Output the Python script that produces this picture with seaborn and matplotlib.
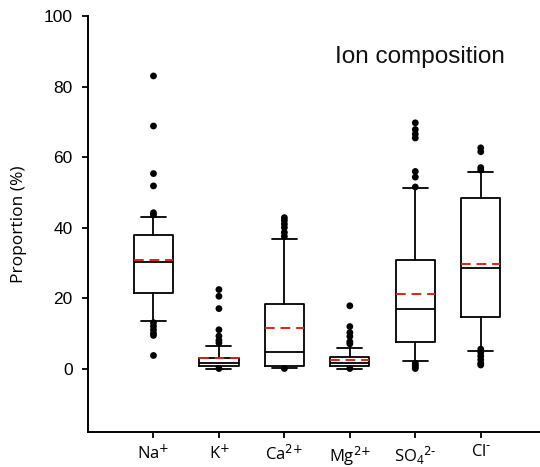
import matplotlib
matplotlib.use("Agg")
import matplotlib.pyplot as plt
import seaborn as sns
import pandas as pd

# Ion labels and box statistics (proportion, %)
ions = [r"$\mathregular{Na^{\text{+}}}$", r"$\mathregular{K^{\text{+}}}$", r"$\mathregular{Ca^{\text{2+}}}$",
        r"$\mathregular{Mg^{\text{2+}}}$", r"$\mathregular{SO_4{}^{\text{2-}}}$", r"$\mathregular{Cl^{\text{-}}}$"]
whisker_low = [13.6, 0.0, 0.2, 0.0, 2.0, 5.1]
q1 = [21.5, 0.6, 0.8, 0.6, 7.4, 14.5]
medians = [30.2, 1.5, 4.8, 1.7, 17.0, 28.6]
means = [30.8, 2.9, 11.6, 2.5, 21.2, 29.7]
q3 = [38.0, 3.0, 18.4, 3.4, 30.9, 48.4]
whisker_high = [43.0, 6.5, 36.8, 5.9, 51.3, 55.8]

# Individual outlying samples per ion
na_out = [83.0, 68.8, 55.3, 51.8, 44.2, 43.6, 13.0, 12.0, 11.0, 10.0, 9.4, 3.7]
k_out = [22.4, 20.5, 17.0, 11.0, 9.2, 8.0, 7.3, 0.0]
ca_out = [42.8, 42.0, 41.0, 40.0, 38.6, 37.5, 0.0]
mg_out = [17.8, 11.9, 10.2, 9.1, 7.6, 7.0, 0.0]
so4_out = [69.7, 67.8, 66.5, 65.4, 55.9, 54.3, 51.5, 1.5, 1.0, 0.5, 0.0]
cl_out = [62.6, 61.5, 57.0, 56.3, 5.5, 4.5, 3.5, 2.5, 1.5, 1.0]
outliers = [na_out, k_out, ca_out, mg_out, so4_out, cl_out]

sns.set_theme(style="ticks")
plt.rcParams["font.family"] = ["Liberation Sans", "DejaVu Sans"]
plt.rcParams["mathtext.default"] = "regular"
plt.rcParams["text.color"] = "black"
plt.rcParams["xtick.color"] = "black"
plt.rcParams["ytick.color"] = "black"
plt.rcParams["axes.labelcolor"] = "black"

fig = plt.figure(figsize=(5.4, 4.67), dpi=100)
ax = fig.add_axes([0.163, 0.075, 0.84, 0.8907])

positions = list(range(1, len(ions) + 1))
stats = []
for i in range(len(ions)):
    stats.append(dict(whislo=whisker_low[i], q1=q1[i], med=medians[i], mean=means[i],
                      q3=q3[i], whishi=whisker_high[i], fliers=[]))

line_kw = dict(color="black", linewidth=1.3)
ax.bxp(stats, positions=positions, widths=0.6, capwidths=0.38,
       showmeans=True, meanline=True, showfliers=False,
       boxprops=line_kw, whiskerprops=line_kw, capprops=line_kw,
       medianprops=dict(color="black", linewidth=1.3),
       meanprops=dict(color="#e0201b", linewidth=1.4, linestyle=(0, (5, 3))))

fl = pd.DataFrame({
    "pos": [positions[i] for i, vals in enumerate(outliers) for _ in vals],
    "value": [v for vals in outliers for v in vals],
})
sns.scatterplot(data=fl, x="pos", y="value", ax=ax, color="black", s=24,
                edgecolor="none", legend=False, zorder=3)

ax.set_xlim(0, 6.93)
ax.set_ylim(-18, 100)
ax.set_yticks([0, 20, 40, 60, 80, 100])
ax.set_xticks(positions)
ax.set_xticklabels(ions, fontsize=12, family=["Open Sans", "DejaVu Sans"])
ax.tick_params(axis="y", labelsize=12.5, length=4, width=1.3, direction="out", pad=7)
ax.tick_params(axis="x", length=4, width=1.3, direction="out", pad=5)
ax.set_xlabel("")
ax.set_ylabel("Proportion (%)", fontsize=12.5, family=["Open Sans", "DejaVu Sans"], labelpad=12)

for side in ["top", "right"]:
    ax.spines[side].set_visible(False)
for side in ["left", "bottom"]:
    ax.spines[side].set_linewidth(1.4)
    ax.spines[side].set_color("black")

ax.text(0.544, 0.901, "Ion composition", transform=ax.transAxes,
        fontsize=17.5, ha="left", va="center", color="#111111")

fig.savefig("out.png", dpi=100)
